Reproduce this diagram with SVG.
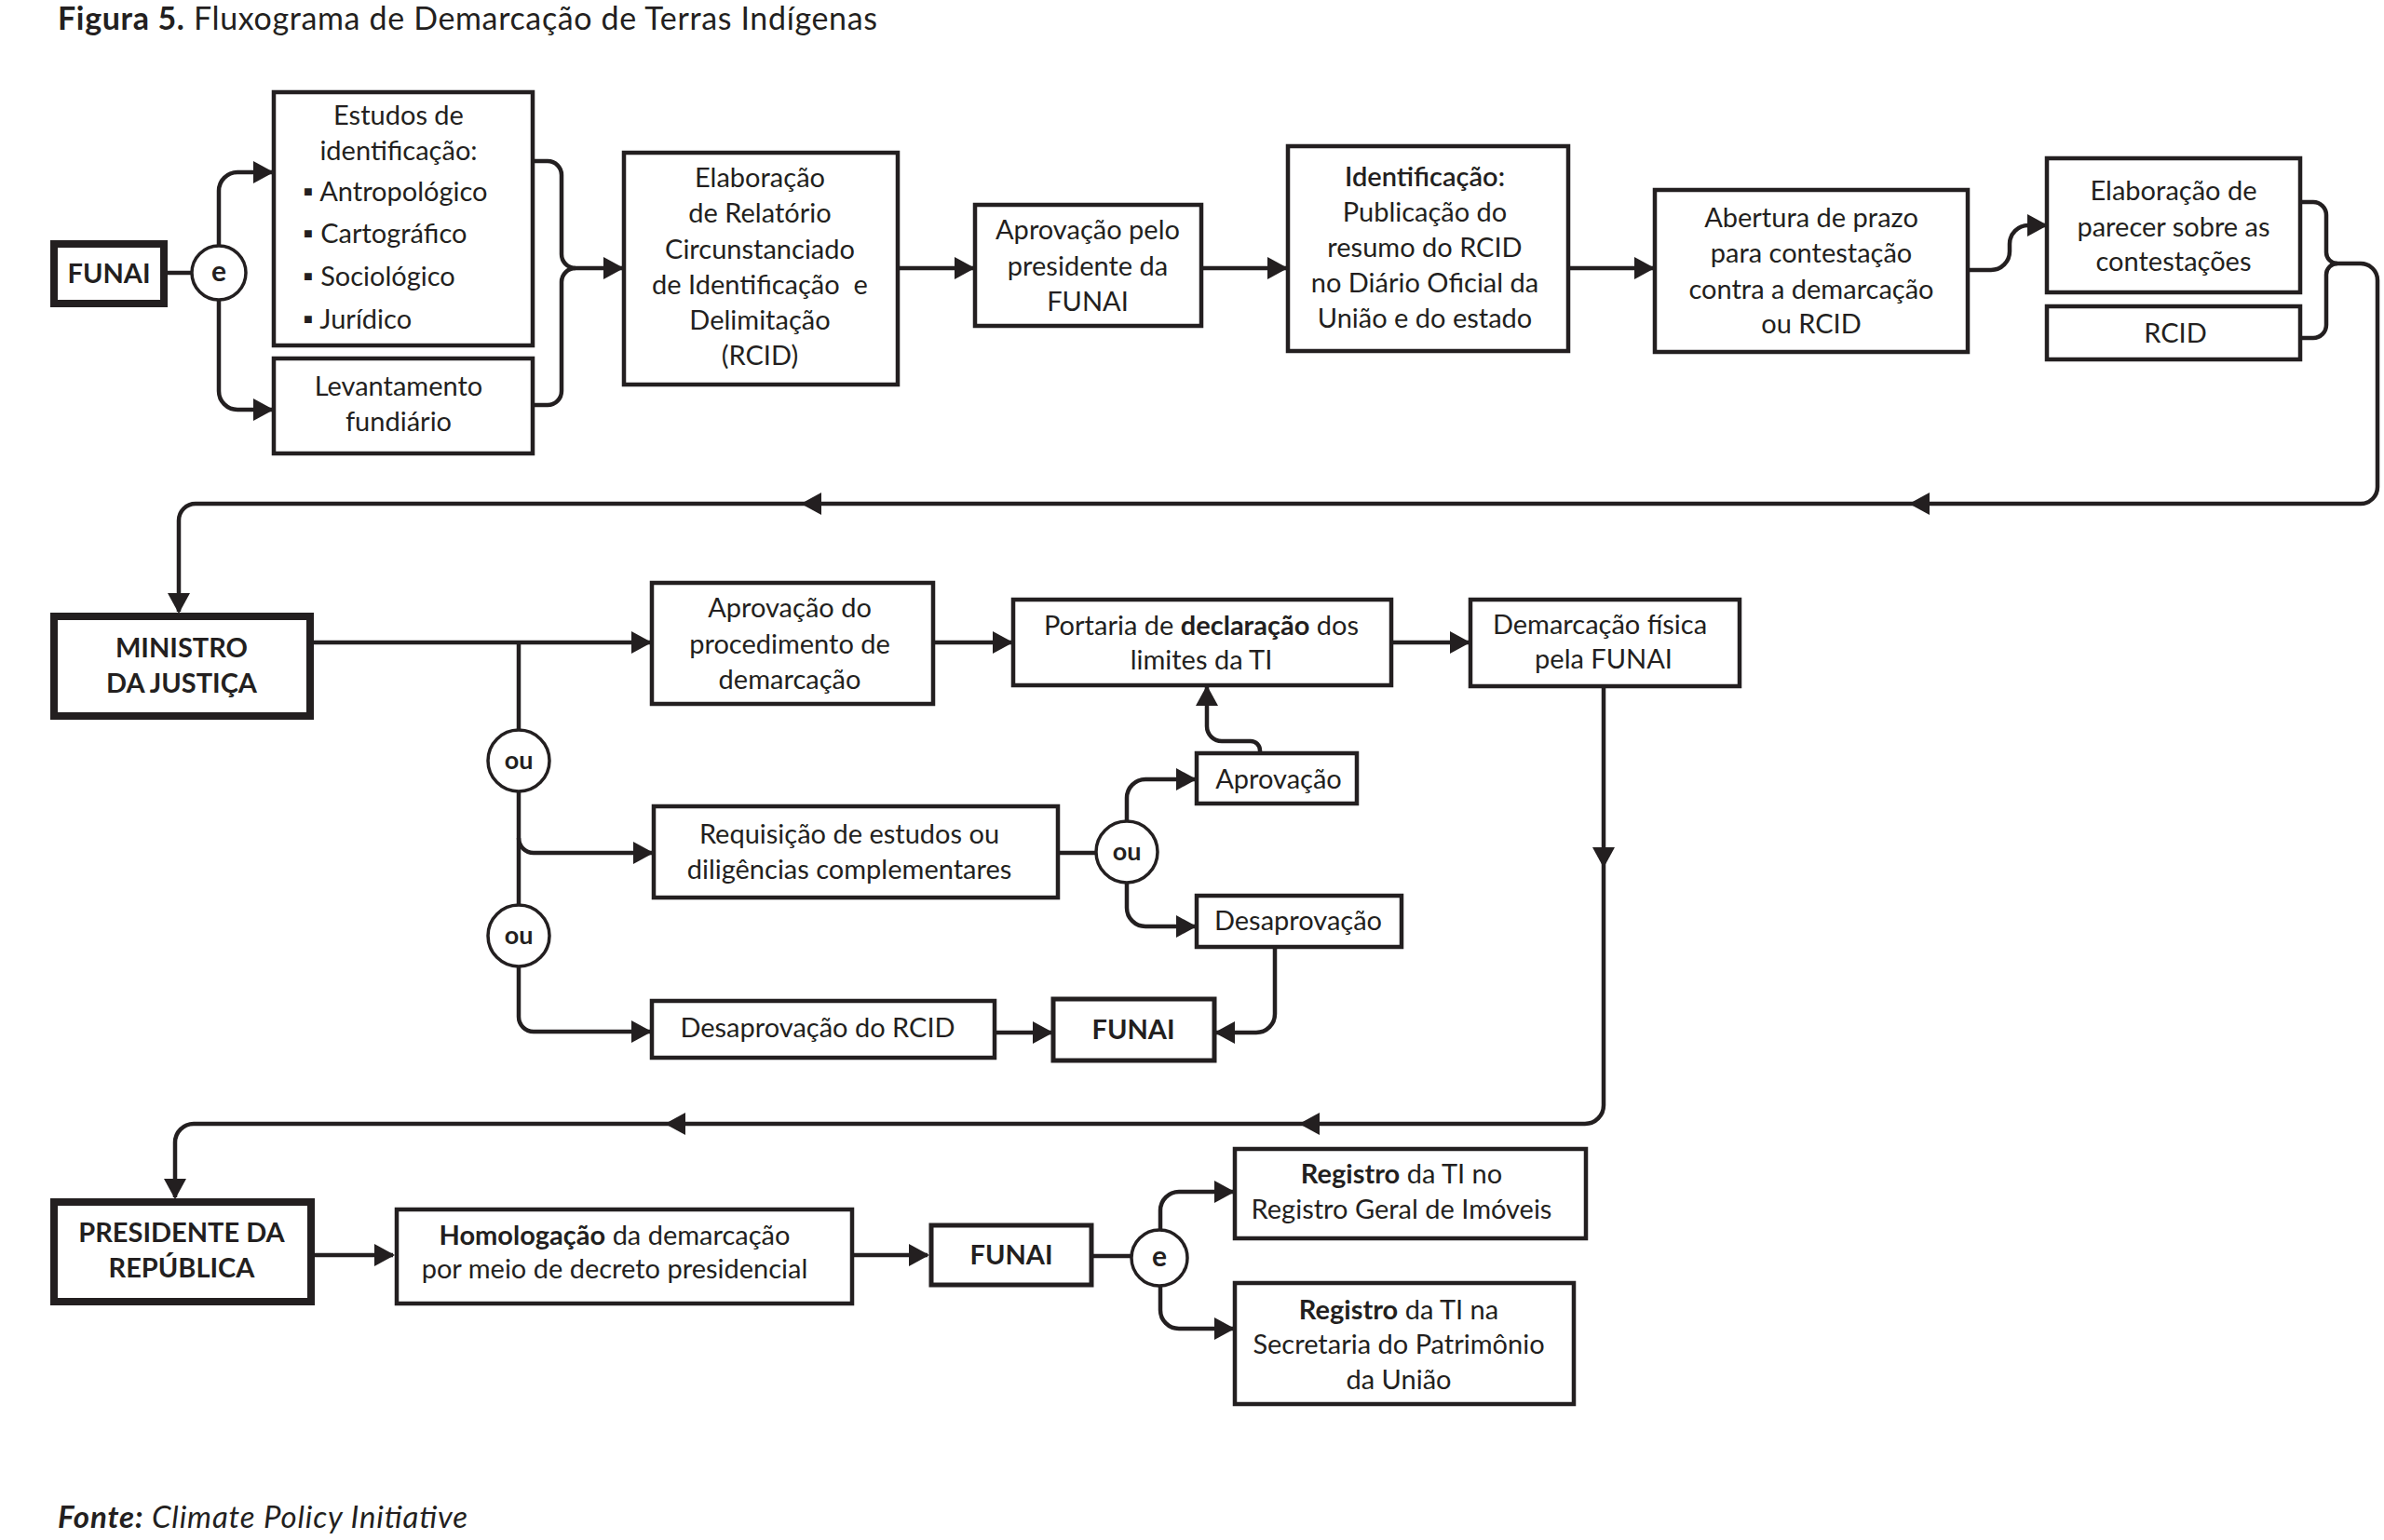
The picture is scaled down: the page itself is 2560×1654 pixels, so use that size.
<svg xmlns="http://www.w3.org/2000/svg" width="2560" height="1654" viewBox="0 0 2560 1654">
<style>
  text { font-family: Lato, "Open Sans", "Liberation Sans", sans-serif; fill: #231f20; }
  .t { font-size: 29px; text-anchor: middle; }
  .tl { font-size: 29px; text-anchor: start; }
  .b { font-weight: 700; }
  .box { fill: #fff; stroke: #231f20; stroke-width: 4.5; }
  .thick { fill: #fff; stroke: #231f20; stroke-width: 8; }
  .gate { fill: #fff; stroke: #231f20; stroke-width: 3.5; }
  .c { fill: none; stroke: #231f20; stroke-width: 4.5; }
  .ah { fill: #231f20; }
</style>
<defs>
  <marker id="arr" viewBox="0 0 22 24" refX="20" refY="12" markerWidth="22" markerHeight="24" markerUnits="userSpaceOnUse" orient="auto">
    <path d="M0,0 L22,12 L0,24 Z" fill="#231f20"/>
  </marker>
</defs>
<rect x="0" y="0" width="2560" height="1654" fill="#fff"/>

<text x="62" y="32" style="font-size:34px" textLength="880"><tspan font-weight="700">Figura 5.</tspan> Fluxograma de Demarcação de Terras Indígenas</text>

<g id="connectors">
  <!-- row 1 -->
  <path class="c" d="M180,293 H206"/>
  <path class="c" d="M235,264 V205 A20,20 0 0 1 255,185 H292" marker-end="url(#arr)"/>
  <path class="c" d="M235,322 V420 A20,20 0 0 0 255,440 H292" marker-end="url(#arr)"/>
  <path class="c" d="M572,173 H588 A15,15 0 0 1 603,188 V273 A15,15 0 0 0 618,288 H668" marker-end="url(#arr)"/>
  <path class="c" d="M572,435 H588 A15,15 0 0 0 603,420 V303 A15,15 0 0 1 618,288"/>
  <path class="c" d="M964,288 H1045" marker-end="url(#arr)"/>
  <path class="c" d="M1290,288 H1381" marker-end="url(#arr)"/>
  <path class="c" d="M1684,288 H1775" marker-end="url(#arr)"/>
  <path class="c" d="M2113,290 H2138 A20,20 0 0 0 2158,270 V262 A20,20 0 0 1 2178,242 H2197" marker-end="url(#arr)"/>
  <path class="c" d="M2470,217 H2484 A14,14 0 0 1 2498,231 V271 A12,12 0 0 0 2510,283"/>
  <path class="c" d="M2470,363 H2484 A14,14 0 0 0 2498,349 V295 A12,12 0 0 1 2510,283"/>
  <path class="c" d="M2510,283 H2535 A18,18 0 0 1 2553,301 V523 A18,18 0 0 1 2535,541 H210 A18,18 0 0 0 192,559 V657" marker-end="url(#arr)"/>
  <path class="ah" d="M2050,541 L2072,529 L2072,553 Z"/>
  <path class="ah" d="M860,541 L882,529 L882,553 Z"/>
  <!-- row 2 -->
  <path class="c" d="M337,690 H698" marker-end="url(#arr)"/>
  <path class="c" d="M557,690 V784"/>
  <path class="c" d="M557,850 V972"/>
  <path class="c" d="M557,900 A16,16 0 0 0 573,916 H700" marker-end="url(#arr)"/>
  <path class="c" d="M557,1038 V1092 A16,16 0 0 0 573,1108 H698" marker-end="url(#arr)"/>
  <path class="c" d="M1002,690 H1086" marker-end="url(#arr)"/>
  <path class="c" d="M1494,690 H1577" marker-end="url(#arr)"/>
  <path class="c" d="M1136,916 H1177"/>
  <path class="c" d="M1210,882 V857 A20,20 0 0 1 1230,837 H1283" marker-end="url(#arr)"/>
  <path class="c" d="M1210,948 V975 A20,20 0 0 0 1230,995 H1283" marker-end="url(#arr)"/>
  <path class="c" d="M1353,809 V806 A10,10 0 0 0 1343,796 H1312 A16,16 0 0 1 1296,780 V738" marker-end="url(#arr)"/>
  <path class="c" d="M1369,1017 V1089 A20,20 0 0 1 1349,1109 H1306" marker-end="url(#arr)"/>
  <path class="c" d="M1068,1109 H1129" marker-end="url(#arr)"/>
  <path class="c" d="M1722,737 V1187 A20,20 0 0 1 1702,1207 H208 A20,20 0 0 0 188,1227 V1286" marker-end="url(#arr)"/>
  <path class="ah" d="M1722,932 L1710,910 L1734,910 Z"/>
  <path class="ah" d="M1395,1207 L1417,1195 L1417,1219 Z"/>
  <path class="ah" d="M714,1207 L736,1195 L736,1219 Z"/>
  <!-- row 3 -->
  <path class="c" d="M338,1348 H422" marker-end="url(#arr)"/>
  <path class="c" d="M915,1348 H996" marker-end="url(#arr)"/>
  <path class="c" d="M1172,1349 H1215"/>
  <path class="c" d="M1246,1321 V1300 A20,20 0 0 1 1266,1280 H1324" marker-end="url(#arr)"/>
  <path class="c" d="M1246,1381 V1407 A20,20 0 0 0 1266,1427 H1324" marker-end="url(#arr)"/>
</g>

<g id="funai1">
  <rect class="thick" x="58" y="262" width="118" height="64"/>
  <text class="t b" x="117" y="304">FUNAI</text>
</g>
<g id="e1">
  <circle class="gate" cx="235" cy="293" r="29"/>
  <text class="t b" x="235" y="302" style="font-size:30px">e</text>
</g>
<g id="estudos">
  <rect class="box" x="294" y="99" width="278" height="272"/>
  <text class="t" x="428" y="134">Estudos de</text>
  <text class="t" x="428" y="172">identificação:</text>
  <text class="tl" x="325" y="216">▪ Antropológico</text>
  <text class="tl" x="325" y="261">▪ Cartográfico</text>
  <text class="tl" x="325" y="307">▪ Sociológico</text>
  <text class="tl" x="325" y="353">▪ Jurídico</text>
</g>
<g id="levantamento">
  <rect class="box" x="294" y="385" width="278" height="102"/>
  <text class="t" x="428" y="425">Levantamento</text>
  <text class="t" x="428" y="463">fundiário</text>
</g>
<g id="rcid-elab">
  <rect class="box" x="670" y="164" width="294" height="249"/>
  <text class="t" x="816" y="201">Elaboração</text>
  <text class="t" x="816" y="239">de Relatório</text>
  <text class="t" x="816" y="278">Circunstanciado</text>
  <text class="t" x="816" y="316">de Identificação&#160; e</text>
  <text class="t" x="816" y="354">Delimitação</text>
  <text class="t" x="816" y="392">(RCID)</text>
</g>
<g id="aprov-pres">
  <rect class="box" x="1047" y="220" width="243" height="130"/>
  <text class="t" x="1168" y="257">Aprovação pelo</text>
  <text class="t" x="1168" y="296">presidente da</text>
  <text class="t" x="1168" y="334">FUNAI</text>
</g>
<g id="identificacao">
  <rect class="box" x="1383" y="157" width="301" height="220"/>
  <text class="t b" x="1530" y="200" style="font-weight:600">Identificação:</text>
  <text class="t" x="1530" y="238">Publicação do</text>
  <text class="t" x="1530" y="276">resumo do RCID</text>
  <text class="t" x="1530" y="314">no Diário Oficial da</text>
  <text class="t" x="1530" y="352">União e do estado</text>
</g>
<g id="abertura">
  <rect class="box" x="1777" y="204" width="336" height="174"/>
  <text class="t" x="1945" y="244">Abertura de prazo</text>
  <text class="t" x="1945" y="282">para contestação</text>
  <text class="t" x="1945" y="321">contra a demarcação</text>
  <text class="t" x="1945" y="358">ou RCID</text>
</g>
<g id="parecer">
  <rect class="box" x="2198" y="170" width="272" height="144"/>
  <text class="t" x="2334" y="215">Elaboração de</text>
  <text class="t" x="2334" y="254">parecer sobre as</text>
  <text class="t" x="2334" y="291">contestações</text>
</g>
<g id="rcid">
  <rect class="box" x="2198" y="329" width="272" height="57"/>
  <text class="t" x="2336" y="368">RCID</text>
</g>

<g id="ministro">
  <rect class="thick" x="58" y="662" width="275" height="107"/>
  <text class="t b" x="195" y="706">MINISTRO</text>
  <text class="t b" x="195" y="744">DA JUSTIÇA</text>
</g>
<g id="ou1">
  <circle class="gate" cx="557" cy="817" r="33"/>
  <text class="t b" x="557" y="826" style="font-size:27px">ou</text>
</g>
<g id="ou2">
  <circle class="gate" cx="557" cy="1005" r="33"/>
  <text class="t b" x="557" y="1014" style="font-size:27px">ou</text>
</g>
<g id="aprov-proc">
  <rect class="box" x="700" y="626" width="302" height="130"/>
  <text class="t" x="848" y="663">Aprovação do</text>
  <text class="t" x="848" y="702">procedimento de</text>
  <text class="t" x="848" y="740">demarcação</text>
</g>
<g id="portaria">
  <rect class="box" x="1088" y="644" width="406" height="92"/>
  <text class="t" x="1290" y="682">Portaria de <tspan font-weight="700">declaração</tspan> dos</text>
  <text class="t" x="1290" y="719">limites da TI</text>
</g>
<g id="demarcacao">
  <rect class="box" x="1579" y="644" width="289" height="93"/>
  <text class="t" x="1718" y="681">Demarcação física</text>
  <text class="t" x="1722" y="718">pela FUNAI</text>
</g>
<g id="requisicao">
  <rect class="box" x="702" y="866" width="434" height="98"/>
  <text class="t" x="912" y="906">Requisição de estudos ou</text>
  <text class="t" x="912" y="944">diligências complementares</text>
</g>
<g id="ou3">
  <circle class="gate" cx="1210" cy="915" r="33"/>
  <text class="t b" x="1210" y="924" style="font-size:27px">ou</text>
</g>
<g id="aprovacao">
  <rect class="box" x="1285" y="809" width="172" height="54"/>
  <text class="t" x="1373" y="847">Aprovação</text>
</g>
<g id="desaprovacao">
  <rect class="box" x="1285" y="962" width="220" height="55"/>
  <text class="t" x="1394" y="999">Desaprovação</text>
</g>
<g id="desaprov-rcid">
  <rect class="box" x="700" y="1075" width="368" height="61"/>
  <text class="t" x="878" y="1114">Desaprovação do RCID</text>
</g>
<g id="funai2">
  <rect class="box" x="1131" y="1073" width="173" height="66" style="stroke-width:5"/>
  <text class="t b" x="1217" y="1116">FUNAI</text>
</g>

<g id="presidente">
  <rect class="thick" x="58" y="1291" width="276" height="107"/>
  <text class="t b" x="195" y="1334">PRESIDENTE DA</text>
  <text class="t b" x="195" y="1372">REPÚBLICA</text>
</g>
<g id="homologacao">
  <rect class="box" x="426" y="1299" width="489" height="101"/>
  <text class="t" x="660" y="1337"><tspan font-weight="700">Homologação</tspan> da demarcação</text>
  <text class="t" x="660" y="1373">por meio de decreto presidencial</text>
</g>
<g id="funai3">
  <rect class="box" x="1000" y="1316" width="172" height="64" style="stroke-width:5"/>
  <text class="t b" x="1086" y="1358">FUNAI</text>
</g>
<g id="e2">
  <circle class="gate" cx="1245" cy="1351" r="30"/>
  <text class="t b" x="1245" y="1360" style="font-size:30px">e</text>
</g>
<g id="registro1">
  <rect class="box" x="1326" y="1234" width="377" height="96"/>
  <text class="t" x="1505" y="1271"><tspan font-weight="700">Registro</tspan> da TI no</text>
  <text class="t" x="1505" y="1309">Registro Geral de Imóveis</text>
</g>
<g id="registro2">
  <rect class="box" x="1326" y="1378" width="364" height="130"/>
  <text class="t" x="1502" y="1417"><tspan font-weight="700">Registro</tspan> da TI na</text>
  <text class="t" x="1502" y="1454">Secretaria do Patrimônio</text>
  <text class="t" x="1502" y="1492">da União</text>
</g>

<text x="62" y="1641" style="font-size:33px; font-style:italic" textLength="440"><tspan font-weight="700">Fonte:</tspan> Climate Policy Initiative</text>
</svg>
